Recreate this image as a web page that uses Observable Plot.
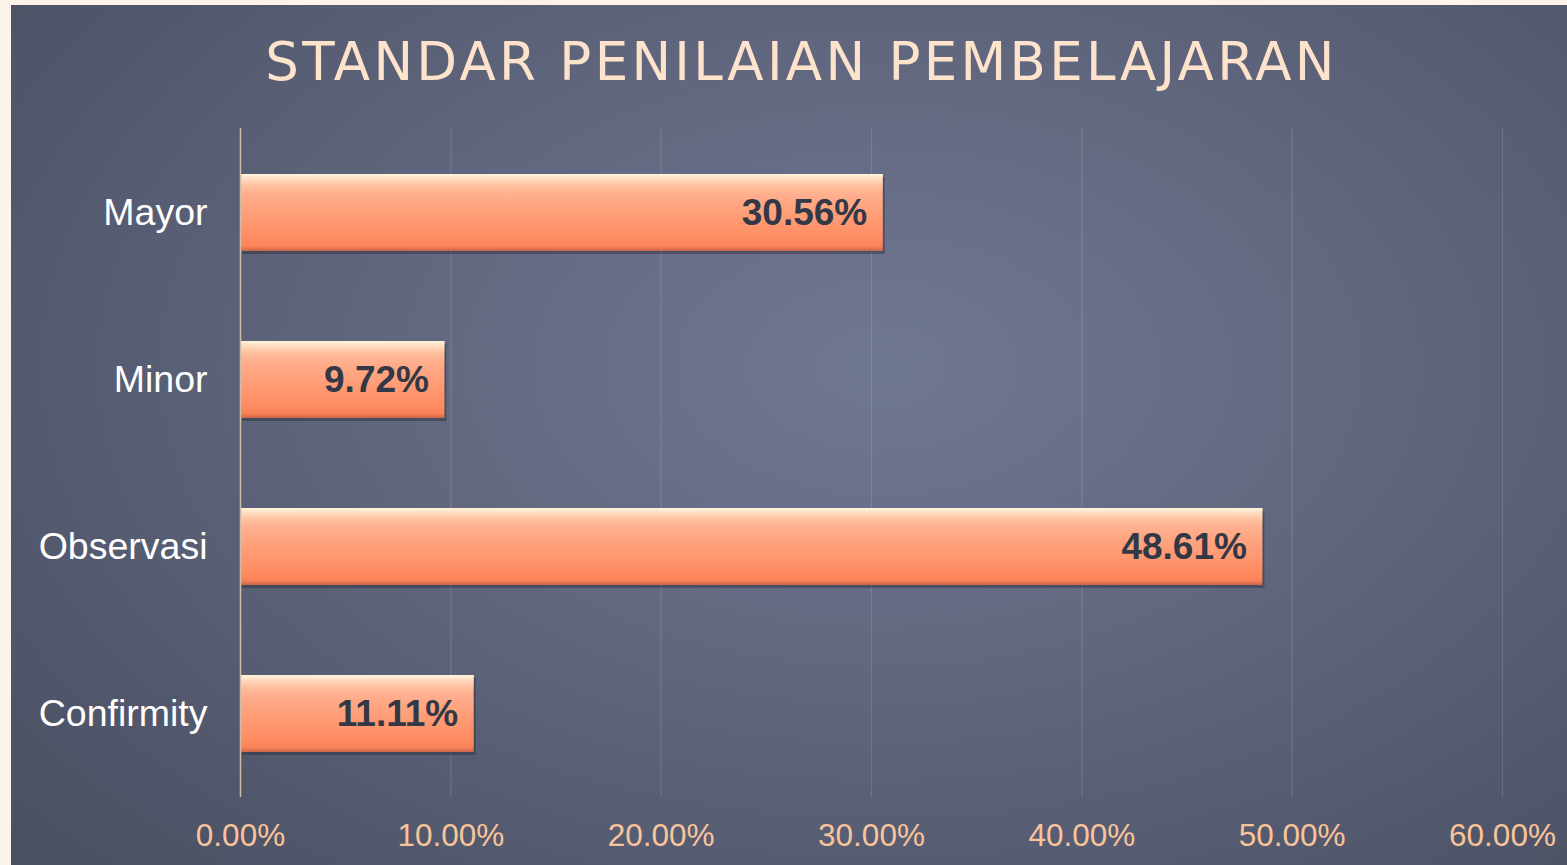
<!DOCTYPE html>
<html>
<head>
<meta charset="utf-8">
<script src="https://cdn.jsdelivr.net/npm/d3@7"></script>
<script src="https://cdn.jsdelivr.net/npm/@observablehq/plot@0.6"></script>
<style>
  html, body { margin: 0; padding: 0; background: #fdf3ea; }
  #wrap { position: relative; width: 1567px; height: 865px; overflow: hidden; background: #fdf3ea; }
  #panel {
    position: absolute; left: 11px; top: 5px; width: 1556px; height: 860px;
    background: radial-gradient(ellipse 75% 85% at 56% 42%, #707792 0%, #646a82 35%, #555b70 70%, #4a4f61 100%);
  }
  #title {
    position: absolute; left: 18px; top: 0; width: 1567px; height: 115px;
    text-align: center; line-height: 1;
    font-family: "DejaVu Sans", sans-serif; font-size: 53px; letter-spacing: 3.3px;
    color: #fde2cc; padding-top: 35px; box-sizing: border-box;
  }
  #chart { position: absolute; left: 0; top: 115px; }
</style>
</head>
<body>
<div id="wrap">
  <div id="panel"></div>
  <div id="title">STANDAR PENILAIAN PEMBELAJARAN</div>
  <div id="chart"></div>
</div>
<script>
const categories = ["Mayor", "Minor", "Observasi", "Confirmity"];
const values = [30.56, 9.72, 48.61, 11.11];
const tickValues = [0, 10, 20, 30, 40, 50, 60];

const data = categories.map((c, i) => ({category: c, value: values[i]}));
const fmt = v => v.toFixed(2) + "%";

const plot = Plot.plot({
  width: 1567,
  height: 750,
  marginLeft: 240,
  marginRight: 65,
  marginTop: 13,
  marginBottom: 68,
  style: {background: "transparent", fontFamily: "Liberation Sans, Arial, sans-serif", overflow: "visible"},
  x: {domain: [0, 60], ticks: tickValues, label: null},
  y: {domain: categories, paddingInner: 0.54, paddingOuter: 0.27, label: null},
  marks: [
    Plot.gridX(tickValues.slice(1), {stroke: "#ffffff", strokeOpacity: 0.13, strokeWidth: 1.2}),
    Plot.axisX(tickValues, {tickSize: 0, tickPadding: 26, fontSize: 31.5, fill: "#f9c49a", label: null, tickFormat: d => d.toFixed(2) + "%"}),
    Plot.axisY({tickSize: 0, tickPadding: 33, fontSize: 37.5, fill: "#ffffff", label: null}),
    // shadow
    Plot.barX(data, {x: "value", y: "category", fill: "#2a2e3a", fillOpacity: 0.45, dx: 2, dy: 3}),
    // main bar
    Plot.barX(data, {x: "value", y: "category", fill: "url(#barGrad)"}),
    // top highlight
    Plot.barX(data, {x: "value", y: "category", fill: "url(#hiGrad)", insetBottom: 60}),
    Plot.ruleX([0], {stroke: "#cdbcac", strokeWidth: 1.5}),
    Plot.text(data, {x: "value", y: "category", text: d => fmt(d.value), textAnchor: "end", dx: -16, fontSize: 37, fontWeight: "bold", fill: "#323846"})
  ]
});

const svg = d3.select(plot);
const defs = svg.insert("defs", ":first-child");
const g = defs.append("linearGradient").attr("id", "barGrad").attr("x1", 0).attr("y1", 0).attr("x2", 0).attr("y2", 1);
[[0, "#ffd9bd"], [0.06, "#ffc2a2"], [0.35, "#ffa886"], [0.85, "#ff8b60"], [0.94, "#fb8257"], [1, "#c9654a"]]
  .forEach(([o, c]) => g.append("stop").attr("offset", o).attr("stop-color", c));
const h = defs.append("linearGradient").attr("id", "hiGrad").attr("x1", 0).attr("y1", 0).attr("x2", 0).attr("y2", 1);
[[0, "#fff6e0", 0.95], [0.35, "#ffe6cc", 0.6], [1, "#ffc8a8", 0]]
  .forEach(([o, c, a]) => h.append("stop").attr("offset", o).attr("stop-color", c).attr("stop-opacity", a));

document.getElementById("chart").appendChild(plot);
</script>
</body>
</html>
